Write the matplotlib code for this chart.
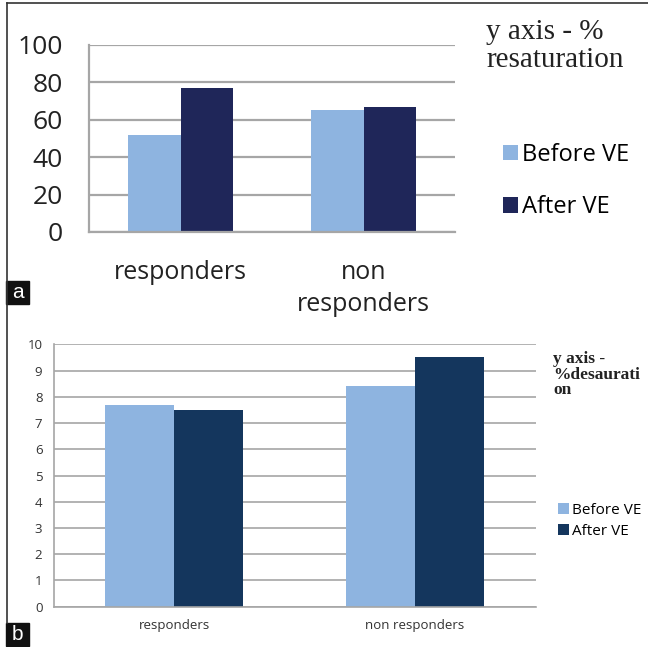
"""Before/after VE bar charts: % resaturation (a) and % desaturation (b)."""

import matplotlib
matplotlib.use("Agg")
import matplotlib.pyplot as plt
import numpy as np
from matplotlib.lines import Line2D
from matplotlib.patches import Rectangle

# data
groups_a = ["responders", "non\nresponders"]
before_a = [52, 65]
after_a = [77, 67]
yticks_a = [0, 20, 40, 60, 80, 100]

groups_b = ["responders", "non responders"]
before_b = [7.7, 8.4]
after_b = [7.5, 9.5]
yticks_b = list(range(0, 11))

series_names = ["Before VE", "After VE"]

LIGHT = "#8eb4e0"
NAVY_A = "#1f2659"
NAVY_B = "#14365d"
GRID = "#a6a6a6"
W, H = 648, 647


def px_rect(left, top, right, bottom):
    """Pixel box -> figure fraction rect."""
    return [left / W, 1 - bottom / H, (right - left) / W, (bottom - top) / H]


def style_axes(ax, yticks, lw):
    ax.set_yticks(yticks)
    ax.set_ylim(yticks[0], yticks[-1])
    ax.set_xlim(-0.5, 1.5)
    ax.grid(axis="y", color=GRID, linewidth=lw)
    ax.set_axisbelow(True)
    for side in ["top", "right"]:
        ax.spines[side].set_visible(False)
    for side in ["left", "bottom"]:
        ax.spines[side].set_color(GRID)
        ax.spines[side].set_linewidth(lw)
    ax.tick_params(length=0)


fig = plt.figure(figsize=(W / 100, H / 100), dpi=100)

# ---- panel a ----
ax1 = fig.add_axes(px_rect(89, 45, 455, 232))
x = np.arange(len(groups_a))
bw = 0.285
b1 = ax1.bar(x - bw / 2, before_a, bw, color=LIGHT, label=series_names[0])
b2 = ax1.bar(x + bw / 2, after_a, bw, color=NAVY_A, label=series_names[1])
style_axes(ax1, yticks_a, 1.6)
ax1.set_xticks(x)
ax1.set_xticklabels(groups_a, family="Open Sans", fontsize=18, color="#222222",
                    linespacing=1.4, va="top")
ax1.set_yticklabels([str(t) for t in yticks_a], family="Open Sans", fontsize=19,
                    color="#222222")
ax1.tick_params(axis="x", pad=20)
ax1.tick_params(axis="y", pad=19)
ax1.legend(handles=[b1, b2], loc="center left", bbox_to_anchor=(503 / W, 1 - 181 / H),
           bbox_transform=fig.transFigure, frameon=False, borderpad=0,
           borderaxespad=0, prop={"family": "Open Sans", "size": 17},
           handlelength=0.62, handleheight=0.62, handletextpad=0.2,
           labelspacing=1.2)
fig.text(486 / W, 1 - 19 / H, "y axis - %\nresaturation", family="Liberation Serif",
         fontsize=21, va="top", ha="left", linespacing=1.12, color="#222222")

# ---- panel b ----
ax2 = fig.add_axes(px_rect(53.5, 344.3, 535.5, 606.7))
x = np.arange(len(groups_b))
c1 = ax2.bar(x - bw / 2, before_b, bw, color=LIGHT, label=series_names[0])
c2 = ax2.bar(x + bw / 2, after_b, bw, color=NAVY_B, label=series_names[1])
style_axes(ax2, yticks_b, 1.2)
ax2.set_xticks(x)
ax2.set_xticklabels(groups_b, family="Open Sans", fontsize=9.5, color="#333333")
ax2.set_yticklabels([str(t) for t in yticks_b], family="Open Sans", fontsize=9.5,
                    color="#333333")
ax2.tick_params(axis="x", pad=9)
ax2.tick_params(axis="y", pad=8)
ax2.legend(handles=[c1, c2], loc="center left", bbox_to_anchor=(558 / W, 1 - 521 / H),
           bbox_transform=fig.transFigure, frameon=False, borderpad=0,
           borderaxespad=0, prop={"family": "Open Sans", "size": 11},
           handlelength=0.7, handleheight=0.7, handletextpad=0.2,
           labelspacing=0.4)
fig.text(553 / W, 1 - 351 / H, "y axis -\n%desaurati\non", family="Liberation Serif",
         fontsize=12.5, fontweight="bold", va="top", ha="left", linespacing=0.97,
         color="#222222")

# ---- outer frame and panel tags ----
fig.add_artist(Line2D([7 / W, 1], [1 - 3 / H, 1 - 3 / H], color="#333333", lw=1.2))
fig.add_artist(Line2D([7 / W, 7 / W], [1 - 3 / H, 1 - 623 / H], color="#333333", lw=1.2))
for tag, top in [("a", 281), ("b", 623)]:
    fig.add_artist(Rectangle((6 / W, 1 - (top + 23) / H), 23 / W, 23 / H,
                             transform=fig.transFigure, color="#111111"))
    fig.text(17.5 / W, 1 - (top + 11.5) / H, tag, color="white", fontsize=15,
             family="Liberation Sans", ha="center", va="center")

fig.savefig("out.png", dpi=100)
